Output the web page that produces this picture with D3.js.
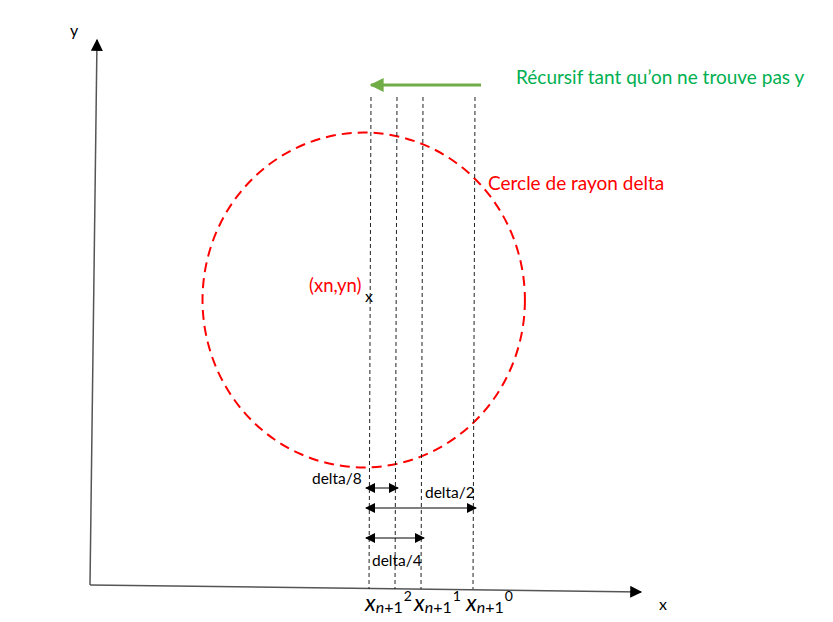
<!DOCTYPE html>
<html>
<head>
<meta charset="utf-8">
<script src="https://cdn.jsdelivr.net/npm/d3@7"></script>
<style>
  body { margin: 0; background: #fff; }
  text { font-family: Lato, "Open Sans", sans-serif; }
</style>
</head>
<body>
<svg id="chart" width="833" height="622"></svg>
<script>
// offsets of the dashed verticals from xn, in units of delta
var offsets = [0, 1 / 8, 1 / 4, 1 / 2];
// labels under the x axis (superscript = iteration)
var iterLabels = ["2", "1", "0"];
// double arrows: from / to offsets and text
var spans = [
  { from: 0, to: 1 / 8, label: "delta/8" },
  { from: 0, to: 1 / 2, label: "delta/2" },
  { from: 0, to: 1 / 4, label: "delta/4" }
];
// circle radius (delta units), drawn slightly out of scale like the sketch
var radiusX = 0.775, radiusY = 0.805;

var svg = d3.select("#chart");

// scales: delta units -> pixels
var x = d3.scaleLinear().domain([0, 1]).range([371, 579]);
var y = d3.scaleLinear().domain([0, 1]).range([300, 92]);

var defs = svg.append("defs");
function marker(id, color, w, h) {
  defs.append("marker")
    .attr("id", id)
    .attr("viewBox", "0 0 10 10")
    .attr("refX", 9).attr("refY", 5)
    .attr("markerWidth", w).attr("markerHeight", h)
    .attr("markerUnits", "userSpaceOnUse")
    .attr("orient", "auto-start-reverse")
    .append("path")
    .attr("d", "M0,0L10,5L0,10Z")
    .attr("fill", color);
}
marker("arrBlack", "#000", 14, 12);
marker("arrSmall", "#000", 11, 10);
marker("arrGreen", "#70ad47", 14, 14);

// axes
svg.append("line")
  .attr("x1", 90).attr("y1", 585).attr("x2", 97).attr("y2", 40)
  .attr("stroke", "#555").attr("stroke-width", 1.5)
  .attr("marker-end", "url(#arrBlack)");
svg.append("line")
  .attr("x1", 90).attr("y1", 585).attr("x2", 641).attr("y2", 592)
  .attr("stroke", "#555").attr("stroke-width", 1.5)
  .attr("marker-end", "url(#arrBlack)");
svg.append("text").attr("x", 70).attr("y", 36).attr("font-size", 16).text("y");
svg.append("text").attr("x", 659).attr("y", 610).attr("font-size", 16).text("x");

// red dashed circle of radius delta
svg.append("ellipse")
  .attr("cx", x(-0.035)).attr("cy", y(0))
  .attr("rx", x(radiusX) - x(0)).attr("ry", y(0) - y(radiusY))
  .attr("fill", "none")
  .attr("stroke", "#ff0000").attr("stroke-width", 2)
  .attr("stroke-dasharray", "10,6");

// dashed verticals
svg.selectAll(".vline").data(offsets).enter().append("line")
  .attr("class", "vline")
  .attr("x1", d => x(d)).attr("y1", 97)
  .attr("x2", d => x(d) - 2).attr("y2", 589)
  .attr("stroke", "#222").attr("stroke-width", 1)
  .attr("stroke-dasharray", "4,3");

// green recursion arrow
svg.append("line")
  .attr("x1", 481).attr("y1", 85).attr("x2", x(0)).attr("y2", 85)
  .attr("stroke", "#70ad47").attr("stroke-width", 3)
  .attr("marker-end", "url(#arrGreen)");
svg.append("text")
  .attr("x", 516).attr("y", 84)
  .attr("font-size", 19).attr("fill", "#00b050")
  .text("Récursif tant qu’on ne trouve pas y");

svg.append("text")
  .attr("x", 488).attr("y", 190)
  .attr("font-size", 19).attr("fill", "#ff0000")
  .text("Cercle de rayon delta");

// centre point
svg.append("text")
  .attr("x", 309).attr("y", 292)
  .attr("font-size", 18.5).attr("fill", "#ff0000")
  .text("(xn,yn)");
svg.append("text")
  .attr("x", 365).attr("y", 302)
  .attr("font-size", 16).attr("fill", "#000")
  .text("x");

// double arrows
var spanY = [488, 508, 538];
var spanText = [
  { x: 312, y: 484 },
  { x: 425, y: 498 },
  { x: 372, y: 566 }
];
spans.forEach(function (s, i) {
  svg.append("line")
    .attr("x1", x(s.from) - 5).attr("y1", spanY[i])
    .attr("x2", x(s.to) + 1).attr("y2", spanY[i])
    .attr("stroke", "#000").attr("stroke-width", 1)
    .attr("marker-start", "url(#arrSmall)")
    .attr("marker-end", "url(#arrSmall)");
  svg.append("text")
    .attr("x", spanText[i].x).attr("y", spanText[i].y)
    .attr("font-size", 15.5).attr("fill", "#000")
    .text(s.label);
});

// iteration labels x_{n+1}^k
var labelX = [365, 414, 466];
iterLabels.forEach(function (k, i) {
  var t = svg.append("text")
    .attr("x", labelX[i]).attr("y", 611)
    .attr("font-family", "'Liberation Serif', serif")
    .attr("fill", "#000");
  t.append("tspan").attr("font-style", "italic").attr("font-size", 23).text("x");
  t.append("tspan").attr("font-style", "italic").attr("font-size", 16)
    .attr("dy", 2).text("n");
  t.append("tspan").attr("font-size", 16).text("+1");
  t.append("tspan").attr("font-size", 14).attr("dx", 1)
    .attr("dy", -12).text(k);
});
</script>
</body>
</html>
